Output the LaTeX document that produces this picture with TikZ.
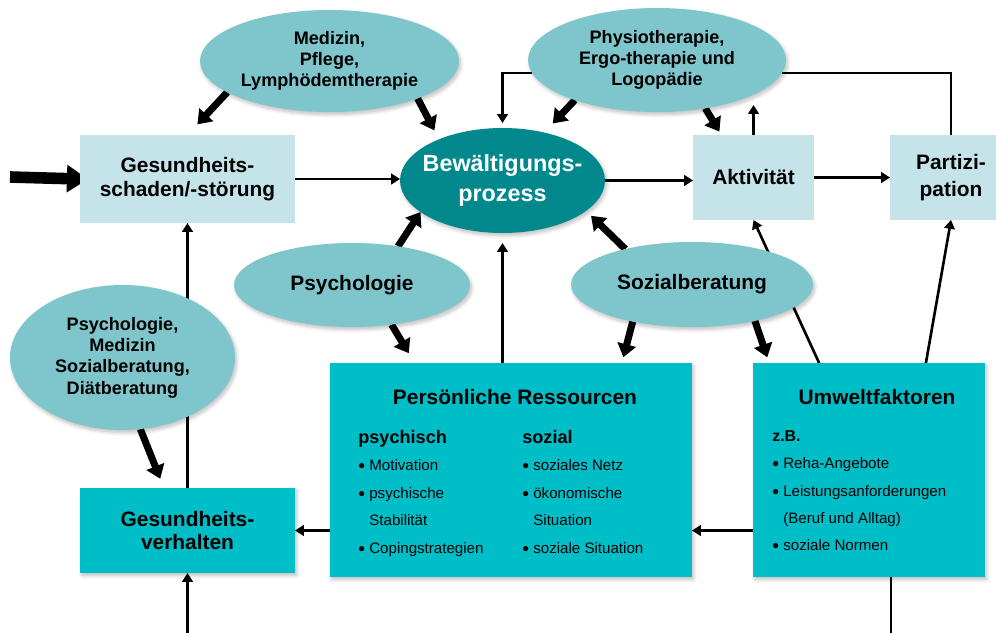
\documentclass[tikz,border=0pt]{standalone}
\usepackage{fontspec}
\setmainfont{Liberation Sans}
\usetikzlibrary{shapes.geometric, arrows.meta, calc, backgrounds, shadows.blur}

\definecolor{boxlight}{HTML}{C4E4E9}
\definecolor{ovalfill}{HTML}{7FC6CC}
\definecolor{ovaldark}{HTML}{00888D}
\definecolor{boxteal}{HTML}{00BEC7}

% list bullet, a bit larger than the text
\newcommand{\lbul}{\raisebox{-1.2pt}{\fontsize{11}{11}\selectfont\textbullet}\ }

\begin{document}
\begin{tikzpicture}[
    x=0.02cm, y=-0.02cm,
    softshadow/.style={blur shadow={shadow blur steps=6, shadow xshift=1pt, shadow yshift=-1.5pt, shadow blur radius=2pt, shadow opacity=25}},
    lightbox/.style={rectangle, fill=boxlight, align=center, inner sep=0pt, outer sep=0pt, font=\bfseries\fontsize{11.9}{13.9}\selectfont},
    tealbox/.style={rectangle, fill=boxteal, softshadow, align=center, inner sep=0pt, outer sep=0pt, font=\bfseries\fontsize{11.9}{13.2}\selectfont},
    oval/.style={ellipse, fill=ovalfill, softshadow, align=center, inner sep=0pt, outer sep=0pt, font=\bfseries\fontsize{10.3}{11.9}\selectfont},
    bigoval/.style={oval, font=\bfseries\fontsize{11.9}{13.9}\selectfont},
    copingtext/.style={text=white, align=center, font=\bfseries\fontsize{13.3}{16.8}\selectfont},
    boxtitle/.style={font=\bfseries\fontsize{11.9}{13.9}\selectfont},
    listcol/.style={align=left, inner sep=0pt, font=\fontsize{8.6}{15.6}\selectfont},
    link/.style={line width=1.5pt, -{Triangle[length=5pt, width=6pt]}},
    plain/.style={line width=1.5pt},
    fat/.style={line width=4pt, -{Triangle[length=7.5pt, width=10.5pt]}},
    bigarrow/.style={line width=6.6pt, -{Triangle[length=12pt, width=15pt]}}
]
\useasboundingbox (0,0) rectangle (996,632);

% ICF boxes, top row
\node[lightbox, minimum width=4.3cm, minimum height=1.76cm] (hurt) at (187.5,179) {Gesundheits-\\schaden/-störung};
\node[ellipse, fill=ovaldark, softshadow, inner sep=0pt, outer sep=0pt, minimum width=4.1cm, minimum height=2.1cm,
      label={[copingtext]center:{Bewältigungs-\\prozess}}] (coping) at (502.5,180.5) {};
\node[lightbox, minimum width=2.42cm, minimum height=1.7cm] (activity) at (753.5,177.5) {Aktivität};
\node[lightbox, minimum width=2.44cm, minimum height=1.7cm, font=\bfseries\fontsize{11.9}{15.3}\selectfont] (partic) at (951,177.5) {Partizi-\\pation};

% professions (ovals)
\node[oval, minimum width=5.18cm, minimum height=2.04cm] (medcare) at (329.5,61) {Medizin,\\Pflege,\\Lymphödemtherapie};
\node[oval, minimum width=5.16cm, minimum height=2.08cm] (therapy) at (657,60) {Physiotherapie,\\Ergo-therapie und\\Logopädie};
\node[bigoval, minimum width=4.72cm, minimum height=1.68cm] (psych) at (352,285) {Psychologie};
\node[bigoval, minimum width=4.84cm, minimum height=1.7cm] (social) at (692,284.5) {Sozialberatung};
\node[oval, minimum width=4.5cm, minimum height=2.9cm, font=\bfseries\fontsize{10.3}{12.1}\selectfont] (counsel) at (122.5,357.5) {Psychologie,\\Medizin\\Sozialberatung,\\Diätberatung};

% lower boxes
\node[tealbox, minimum width=4.3cm, minimum height=1.7cm] (behav) at (187.5,530.5) {Gesundheits-\\verhalten};
\node[tealbox, minimum width=7.24cm, minimum height=4.28cm] (resources) at (511,470) {};
\node[tealbox, minimum width=4.64cm, minimum height=4.28cm] (environ) at (869,470) {};

% box contents
\node[boxtitle] (restitle) at (515,397) {Persönliche Ressourcen};
\node[listcol, anchor=north west] (psycol) at (358,430) {{\bfseries\fontsize{10.3}{12}\selectfont psychisch}\\
    \lbul Motivation\\ \lbul psychische\\ \hphantom{\lbul}Stabilität\\ \lbul Copingstrategien};
\node[listcol, anchor=north west] (socol) at (522,430) {{\bfseries\fontsize{10.3}{12}\selectfont sozial}\\
    \lbul soziales Netz\\ \lbul ökonomische\\ \hphantom{\lbul}Situation\\ \lbul soziale Situation};
\node[boxtitle] (envtitle) at (877,397) {Umweltfaktoren};
\node[listcol, anchor=north west] (envlist) at (772,430) {{\bfseries\fontsize{9}{11}\selectfont z.B.}\\
    \lbul Reha-Angebote\\ \lbul Leistungsanforderungen\\ \hphantom{\lbul}(Beruf und Alltag)\\ \lbul soziale Normen};

% loose ends
\coordinate (inlet) at (10,177);
\coordinate (inflow) at (187.5,640);
\coordinate (outflow) at (891,640);

\begin{scope}[on background layer]
% thin connectors
\draw[bigarrow, shorten >=-0.16cm] (inlet) -- (hurt.west);
\draw[link] (hurt.east) -- (hurt.east -| coping.west);
\draw[link] (coping.east) -- (coping.east -| activity.west);
\draw[link] (activity.east) -- (activity.east -| partic.west);
\draw[link] (activity.north) -- (activity.north |- therapy.-35);
\draw[link, shorten >=0.1cm] (therapy.186) -| (coping.north);
\draw[plain] (therapy.-6) -| (partic.north);
\draw[link] (environ.115) -- (activity.south);
\draw[link] (environ.62) -- (partic.south);
\draw[link] (environ.west |- behav.east) -- (resources.east |- behav.east);
\draw[link] (resources.west |- behav.east) -- (behav.east);
\draw[link, shorten >=0.2cm] (coping.south |- resources.north) -- (coping.south);
\draw[link] (behav.north) -- (hurt.south);
\draw[link] (inflow) -- (behav.south);
\draw[plain] (environ.south -| outflow) -- (outflow);

% thick connectors from the ovals
\draw[fat, shorten >=0.29cm] (medcare.197) -- (hurt.north);
\draw[fat, shorten >=0.2cm] (medcare.-23) -- (coping.147);
\draw[fat, shorten >=0.25cm] (therapy.206) -- (coping.49);
\draw[fat, shorten >=0.08cm] (therapy.-45) -- (activity.127);
\draw[fat] (psych.40) -- (coping.201);
\draw[fat, shorten >=0.23cm] (psych.-45) -- (resources.132);
\draw[fat, shorten >=0.14cm] (social.152) -- (coping.-20);
\draw[fat, shorten >=0.12cm] (social.212) -- (resources.44);
\draw[fat, shorten >=0.12cm] (social.-30) -- (environ.133);
\draw[fat, shorten >=0.2cm] (counsel.-76) -- (behav.119);
\end{scope}

\end{tikzpicture}
\end{document}
